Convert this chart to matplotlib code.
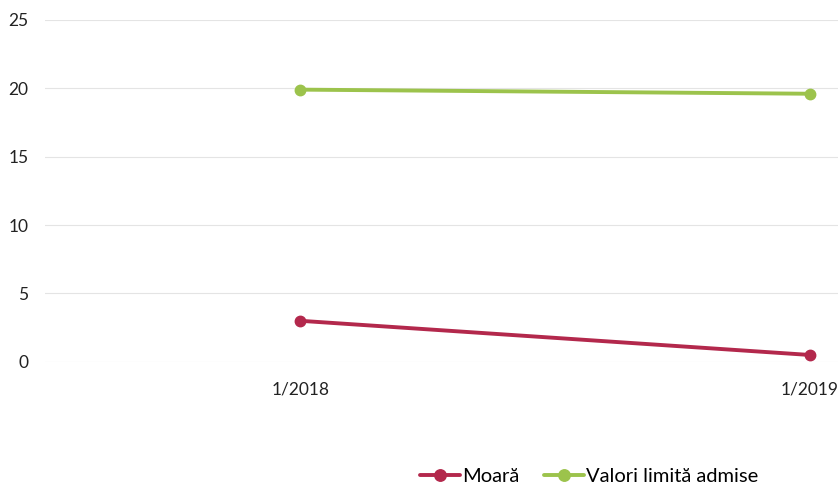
import matplotlib
matplotlib.use("Agg")
import matplotlib.pyplot as plt

# ── data ──────────────────────────────────────────────────────────────────────
categories = ["1/2018", "1/2019"]
moara      = [3.0, 0.5]
valori_lim = [19.9, 19.6]
y_ticks    = [0, 5, 10, 15, 20, 25]

RED   = "#b3284c"
GREEN = "#9cc34c"

plt.rcParams["font.family"] = ["Lato", "DejaVu Sans"]

fig = plt.figure(figsize=(8.38, 4.97), dpi=100)
ax = fig.add_axes([0.054, 0.272, 0.946, 0.688])

x = list(range(len(categories)))
ax.plot(x, moara, color=RED, lw=2.8, marker="o", ms=7.5,
        solid_capstyle="round", label="Moară")
ax.plot(x, valori_lim, color=GREEN, lw=2.8, marker="o", ms=7.5,
        solid_capstyle="round", label="Valori limită admise")

ax.set_xlim(-0.5, 1.055)
ax.set_ylim(0, 25)
ax.set_yticks(y_ticks)
ax.set_xticks(x)
ax.set_xticklabels(categories)
ax.tick_params(length=0, labelsize=12.5, colors="#222222")
ax.tick_params(axis="x", pad=14)
ax.tick_params(axis="y", pad=12)
ax.grid(axis="y", color="#e4e4e4", lw=0.8)
ax.set_axisbelow(True)
for s in ax.spines.values():
    s.set_visible(False)

fig.legend(loc="lower center", bbox_to_anchor=(0.703, -0.012), ncol=2,
           frameon=False, fontsize=14.5, handlelength=2.0, columnspacing=1.2,
           handletextpad=0.1, markerscale=1.1)

fig.savefig("out.png", dpi=100)
